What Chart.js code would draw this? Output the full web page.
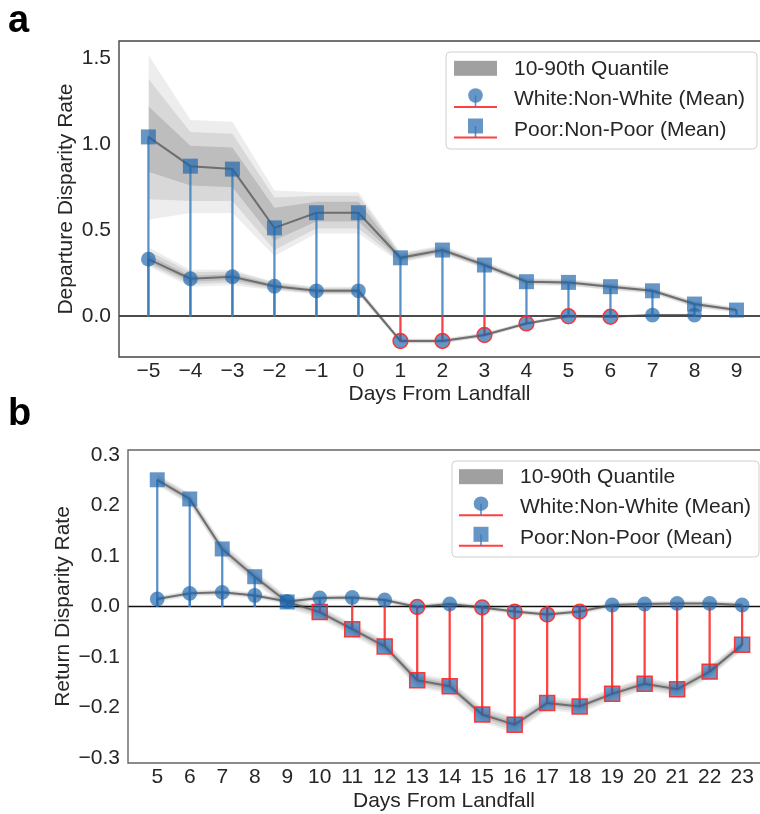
<!DOCTYPE html>
<html><head><meta charset="utf-8">
<script src="https://cdn.jsdelivr.net/npm/chart.js@4.4.1/dist/chart.umd.min.js"></script>
<style>
html,body{margin:0;padding:0;background:#fff;overflow:hidden;width:760px;height:814px;}
.wrap{position:absolute;left:0;}
.lbl{position:absolute;left:8px;font:bold 38px "Liberation Sans",Arial,sans-serif;color:#000;line-height:1;z-index:5;}
</style></head><body>
<div class="wrap" style="top:0"><canvas id="ca" width="760" height="410" style="width:760px;height:410px"></canvas></div>
<div class="wrap" style="top:400px"><canvas id="cb" width="760" height="414" style="width:760px;height:414px"></canvas></div>
<div class="lbl" style="top:0px">a</div>
<div class="lbl" style="top:393px">b</div>
<script>
// ---------- Panel a data ----------
const daysA = [-5,-4,-3,-2,-1,0,1,2,3,4,5,6,7,8,9];
const daysAWhite = [-5,-4,-3,-2,-1,0,1,2,3,4,5,6,7,8];
const yTicksA = [0.0, 0.5, 1.0, 1.5];
const poorA = [1.042,0.872,0.855,0.513,0.601,0.601,0.339,0.384,0.297,0.200,0.196,0.171,0.147,0.070,0.035];
const poorAOuterHi = [1.52,1.14,1.13,0.73,0.72,0.72,0.37,0.41,0.32,0.22,0.215,0.19,0.165,0.09,0.05];
const poorAOuterLo = [0.56,0.60,0.60,0.35,0.48,0.48,0.31,0.36,0.275,0.18,0.175,0.15,0.13,0.05,0.02];
const poorAMidHi = [1.38,1.07,1.06,0.69,0.70,0.70,0.362,0.404,0.315,0.215,0.21,0.186,0.16,0.085,0.047];
const poorAMidLo = [0.68,0.67,0.67,0.385,0.51,0.51,0.317,0.365,0.28,0.185,0.18,0.155,0.134,0.055,0.024];
const poorAInnerHi = [1.22,0.99,0.98,0.63,0.665,0.665,0.352,0.396,0.308,0.208,0.204,0.179,0.154,0.078,0.041];
const poorAInnerLo = [0.84,0.76,0.75,0.44,0.55,0.55,0.326,0.372,0.286,0.192,0.188,0.163,0.14,0.062,0.029];
const whiteA = [0.331,0.217,0.229,0.174,0.147,0.147,-0.145,-0.145,-0.110,-0.043,-0.001,-0.004,0.006,0.006];
const whiteAOuterHi = [0.40,0.27,0.27,0.20,0.17,0.17,-0.13,-0.13,-0.095,-0.032,0.01,0.005,0.013,0.013];
const whiteAOuterLo = [0.29,0.17,0.18,0.15,0.125,0.125,-0.16,-0.16,-0.125,-0.055,-0.01,-0.013,-0.001,-0.001];
const whiteAMidHi = [0.38,0.255,0.26,0.195,0.165,0.165,-0.134,-0.134,-0.099,-0.035,0.007,0.002,0.011,0.011];
const whiteAMidLo = [0.30,0.185,0.195,0.155,0.13,0.13,-0.156,-0.156,-0.121,-0.052,-0.007,-0.01,0.001,0.001];
const whiteAInnerHi = [0.355,0.235,0.245,0.185,0.158,0.158,-0.139,-0.139,-0.104,-0.038,0.004,0.0,0.009,0.009];
const whiteAInnerLo = [0.31,0.2,0.21,0.163,0.136,0.136,-0.151,-0.151,-0.116,-0.048,-0.005,-0.008,0.003,0.003];

// ---------- Panel b data ----------
const daysB = [5,6,7,8,9,10,11,12,13,14,15,16,17,18,19,20,21,22,23];
const yTicksB = [-0.3,-0.2,-0.1,0.0,0.1,0.2,0.3];
const poorB = [0.251,0.213,0.114,0.059,0.009,-0.011,-0.045,-0.079,-0.146,-0.158,-0.214,-0.234,-0.191,-0.198,-0.173,-0.153,-0.164,-0.129,-0.076];
const poorBOuterHi = [0.262,0.225,0.127,0.072,0.020,0.001,-0.033,-0.066,-0.132,-0.144,-0.199,-0.218,-0.178,-0.185,-0.161,-0.141,-0.152,-0.117,-0.066];
const poorBOuterLo = [0.240,0.201,0.101,0.046,-0.004,-0.024,-0.058,-0.093,-0.161,-0.173,-0.230,-0.251,-0.205,-0.212,-0.186,-0.166,-0.177,-0.141,-0.087];
const poorBMidHi = [0.259,0.222,0.123,0.068,0.017,-0.002,-0.036,-0.069,-0.136,-0.148,-0.203,-0.222,-0.182,-0.189,-0.164,-0.144,-0.155,-0.120,-0.068];
const poorBMidLo = [0.243,0.204,0.105,0.050,0.0,-0.020,-0.054,-0.089,-0.157,-0.169,-0.226,-0.246,-0.201,-0.208,-0.182,-0.162,-0.173,-0.138,-0.084];
const poorBInnerHi = [0.256,0.218,0.119,0.064,0.014,-0.006,-0.040,-0.073,-0.140,-0.152,-0.208,-0.228,-0.186,-0.193,-0.168,-0.148,-0.159,-0.124,-0.072];
const poorBInnerLo = [0.246,0.208,0.109,0.054,0.004,-0.016,-0.050,-0.085,-0.152,-0.164,-0.220,-0.240,-0.196,-0.203,-0.178,-0.158,-0.169,-0.134,-0.080];
const whiteB = [0.015,0.026,0.028,0.022,0.010,0.017,0.018,0.013,-0.001,0.005,-0.002,-0.010,-0.016,-0.010,0.003,0.005,0.006,0.006,0.003];
const whiteBOuterHi = [0.021,0.032,0.034,0.028,0.016,0.023,0.024,0.019,0.005,0.011,0.004,-0.004,-0.010,-0.004,0.009,0.011,0.012,0.012,0.009];
const whiteBOuterLo = [0.009,0.020,0.022,0.016,0.004,0.011,0.012,0.007,-0.007,-0.001,-0.008,-0.016,-0.022,-0.016,-0.003,-0.001,0.000,0.000,-0.003];
const whiteBMidHi = [0.019,0.030,0.032,0.026,0.014,0.021,0.022,0.017,0.003,0.009,0.002,-0.006,-0.012,-0.006,0.007,0.009,0.010,0.010,0.007];
const whiteBMidLo = [0.011,0.022,0.024,0.018,0.006,0.013,0.014,0.009,-0.005,0.001,-0.006,-0.014,-0.020,-0.014,-0.001,0.001,0.002,0.002,-0.001];
const whiteBInnerHi = [0.017,0.028,0.030,0.024,0.012,0.019,0.020,0.015,0.001,0.007,0.0,-0.008,-0.014,-0.008,0.005,0.007,0.008,0.008,0.005];
const whiteBInnerLo = [0.013,0.024,0.026,0.020,0.008,0.015,0.016,0.011,-0.003,0.003,-0.004,-0.012,-0.018,-0.012,0.001,0.003,0.004,0.004,0.001];

const legendLabels = ['10-90th Quantile','White:Non-White (Mean)','Poor:Non-Poor (Mean)'];

// ---------- styling ----------
const FONT = '"Liberation Sans", Arial, sans-serif';
const TXT = '#262626';
const MARK = 'rgba(30,100,170,0.68)';
const STEM_POS = 'rgba(60,125,190,0.85)';
const STEM_NEG = 'rgba(255,30,30,0.85)';
const EDGE_NEG = 'rgba(255,40,40,0.9)';

const pts = (xs, ys) => ys.map((y, i) => ({x: xs[i], y}));
const stems = (xs, ys) => ys.map((y, i) => ({x: xs[i], y: [0, y]}));
const fmt = s => s.replace('-', '\u2212');

function bandSets(xs, layers) {
  const base = {type:'line', pointRadius:0, borderWidth:0, tension:0};
  const alphas = [0.07, 0.09, 0.13];
  const out = [];
  layers.forEach((L, k) => {
    out.push(Object.assign({}, base, {data: pts(xs, L[0]), fill:'+1', backgroundColor:'rgba(0,0,0,' + alphas[k] + ')', order:20 - k}));
    out.push(Object.assign({}, base, {data: pts(xs, L[1]), fill:false, order:20 - k}));
  });
  return out;
}
function meanLine(xs, ys) {
  return {type:'line', data: pts(xs, ys), borderColor:'rgba(75,75,75,0.7)', borderWidth:2, pointRadius:0, tension:0, fill:false, order:15};
}
function stemSet(xs, ys) {
  return {type:'bar', data: stems(xs, ys), backgroundColor: ys.map(v => v < 0 ? STEM_NEG : STEM_POS),
    borderWidth:0, barThickness:1.6, grouped:false, order:5};
}
function markerSet(xs, ys, style, radius, ord) {
  return {type:'line', data: pts(xs, ys), showLine:false, pointStyle: style, pointRadius: radius,
    pointBackgroundColor: MARK, pointBorderColor: ys.map(v => v < 0 ? EDGE_NEG : 'rgba(0,0,0,0)'),
    pointBorderWidth: 1.5, order: ord};
}

const framePlugin = {
  id:'frame',
  beforeDatasetsDraw(chart, args, o) {
    const {ctx, chartArea:a, scales:{y}} = chart;
    const y0 = y.getPixelForValue(0);
    ctx.save(); ctx.strokeStyle = '#111'; ctx.lineWidth = 1.5;
    ctx.beginPath(); ctx.moveTo(a.left, y0); ctx.lineTo(a.right, y0); ctx.stroke(); ctx.restore();
  },
  afterDraw(chart, args, o) {
    const {ctx, chartArea:a} = chart;
    ctx.save(); ctx.strokeStyle = o.color; ctx.lineWidth = 1.4;
    ctx.beginPath();
    ctx.moveTo(a.right + 2, a.top); ctx.lineTo(a.left, a.top); ctx.lineTo(a.left, a.bottom); ctx.lineTo(a.right + 2, a.bottom);
    ctx.stroke(); ctx.restore();
    // legend
    const L = o.legend;
    ctx.save();
    ctx.beginPath(); ctx.roundRect(L.x0, L.y0, L.x1 - L.x0, L.y1 - L.y0, 4);
    ctx.fillStyle = 'rgba(255,255,255,0.85)'; ctx.fill();
    ctx.strokeStyle = '#d0d0d0'; ctx.lineWidth = 1; ctx.stroke();
    const cx = (L.px0 + L.px1) / 2;
    ctx.fillStyle = '#a0a0a0';
    ctx.fillRect(L.px0, L.rows[0] - 7.5, L.px1 - L.px0, 15);
    for (let k = 1; k < 3; k++) {
      const ly = L.rows[k] + 8.5, my = L.rows[k] - 3;
      ctx.strokeStyle = STEM_NEG; ctx.lineWidth = 2;
      ctx.beginPath(); ctx.moveTo(L.px0, ly); ctx.lineTo(L.px1, ly); ctx.stroke();
      ctx.fillStyle = MARK;
      ctx.beginPath();
      if (k === 1) ctx.arc(cx, my, 7.3, 0, Math.PI * 2); else ctx.rect(cx - 7.5, my - 7.5, 15, 15);
      ctx.fill();
      ctx.strokeStyle = STEM_POS; ctx.lineWidth = 1.6;
      ctx.beginPath(); ctx.moveTo(cx, my); ctx.lineTo(cx, ly); ctx.stroke();
    }
    ctx.fillStyle = TXT; ctx.font = '21px ' + FONT; ctx.textBaseline = 'middle'; ctx.textAlign = 'left';
    legendLabels.forEach((t, k) => ctx.fillText(t, L.tx, L.rows[k] + 1));
    ctx.restore();
  }
};

function makeChart(id, cfg) {
  const tickFont = {family: FONT, size: 21};
  new Chart(document.getElementById(id), {
    type:'line',
    data:{datasets: cfg.datasets},
    options:{
      responsive:false, animation:false, devicePixelRatio:1,
      layout:{padding:cfg.padding, autoPadding:false},
      plugins:{legend:{display:false}, tooltip:{enabled:false}, frame:cfg.frame},
      scales:{
        x:{type:'linear', min:cfg.xmin, max:cfg.xmax, offset:false,
          grid:{display:false, drawTicks:false}, border:{display:false},
          ticks:{font:tickFont, color:TXT, padding:2, autoSkip:false, maxRotation:0,
            callback:v => fmt(String(v))},
          afterBuildTicks: s => { s.ticks = cfg.xticks.map(v => ({value:v})); },
          afterFit: s => { s.height = cfg.xh; },
          title:{display:true, text:'Days From Landfall', font:tickFont, color:TXT, padding:0}},
        y:{type:'linear', min:cfg.ymin, max:cfg.ymax,
          grid:{display:false, drawTicks:false}, border:{display:false},
          ticks:{font:tickFont, color:TXT, padding:8, callback:v => fmt(v.toFixed(1))},
          afterBuildTicks: s => { s.ticks = cfg.yticks.map(v => ({value:v})); },
          afterFit: s => { s.width = cfg.yw; },
          title:{display:true, text:cfg.ytitle, font:tickFont, color:TXT, padding:0}}
      }
    },
    plugins:[framePlugin]
  });
}

makeChart('ca', {
  datasets: [].concat(
    bandSets(daysA, [[poorAOuterHi, poorAOuterLo], [poorAMidHi, poorAMidLo], [poorAInnerHi, poorAInnerLo]]),
    bandSets(daysAWhite, [[whiteAOuterHi, whiteAOuterLo], [whiteAMidHi, whiteAMidLo], [whiteAInnerHi, whiteAInnerLo]]),
    [meanLine(daysA, poorA), meanLine(daysAWhite, whiteA),
     stemSet(daysA, poorA), stemSet(daysAWhite, whiteA),
     markerSet(daysA, poorA, 'rect', 10.6, 2), markerSet(daysAWhite, whiteA, 'circle', 7.4, 1)]),
  padding:{left:54, top:41, right:0, bottom:3},
  xmin:-5.7, xmax:9.56, ymin:-0.238, ymax:1.6, xh:50, yw:65,
  xticks: daysA, yticks: yTicksA, ytitle:'Departure Disparity Rate',
  frame:{color:'#444', legend:{x0:446, y0:52, x1:757, y1:149, px0:454, px1:497, rows:[68.3, 98.5, 129], tx:514}}
});

makeChart('cb', {
  datasets: [].concat(
    bandSets(daysB, [[poorBOuterHi, poorBOuterLo], [poorBMidHi, poorBMidLo], [poorBInnerHi, poorBInnerLo]]),
    bandSets(daysB, [[whiteBOuterHi, whiteBOuterLo], [whiteBMidHi, whiteBMidLo], [whiteBInnerHi, whiteBInnerLo]]),
    [meanLine(daysB, poorB), meanLine(daysB, whiteB),
     stemSet(daysB, poorB), stemSet(daysB, whiteB),
     markerSet(daysB, poorB, 'rect', 10.6, 2), markerSet(daysB, whiteB, 'circle', 7.4, 1)]),
  padding:{left:51, top:50, right:0, bottom:0},
  xmin:4.1, xmax:23.55, ymin:-0.31, ymax:0.31, xh:51, yw:77,
  xticks: daysB, yticks: yTicksB, ytitle:'Return Disparity Rate',
  frame:{color:'#666', legend:{x0:452, y0:61, x1:759, y1:157, px0:459, px1:503, rows:[76.7, 106.7, 137.3], tx:520}}
});
</script>
</body></html>
